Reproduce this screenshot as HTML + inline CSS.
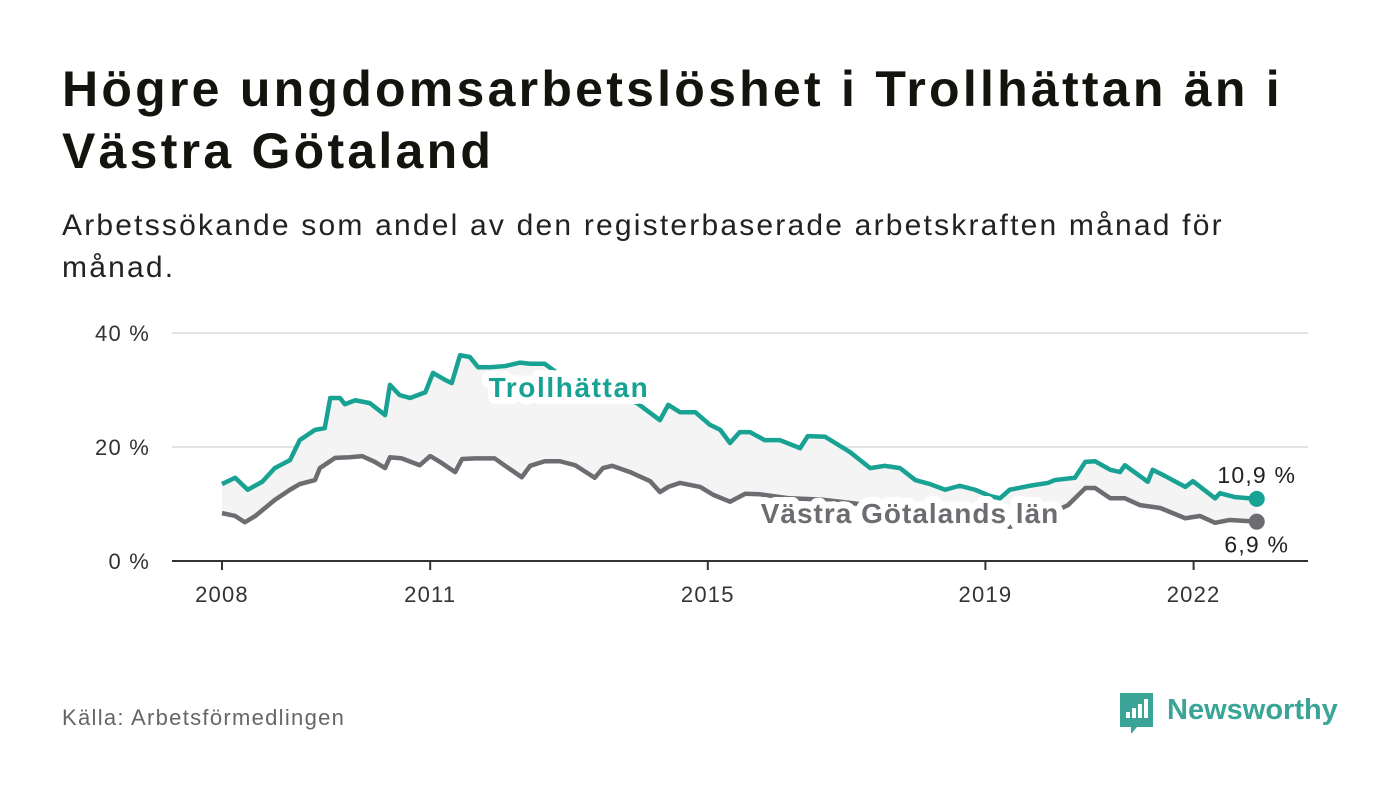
<!DOCTYPE html>
<html><head><meta charset="utf-8">
<style>
body{margin:0;background:#fff;width:1400px;height:794px;overflow:hidden;font-family:"Liberation Sans",sans-serif;color:#111;}
h1{position:absolute;left:62px;top:58px;margin:0;font-size:50px;line-height:62px;font-weight:bold;color:#14140f;letter-spacing:3.25px;}
.sub{position:absolute;left:62px;top:205px;margin:0;font-size:30px;line-height:42px;color:#222;width:1260px;letter-spacing:2.2px;}
.src{position:absolute;left:62px;top:705px;font-size:22px;color:#666;letter-spacing:1.3px;}
</style></head><body>
<h1>Högre ungdomsarbetslöshet i Trollhättan än i<br>Västra Götaland</h1>
<p class="sub">Arbetssökande som andel av den registerbaserade arbetskraften månad för<br>månad.</p>
<div class="src">Källa: Arbetsförmedlingen</div>
<svg width="1400" height="794" style="position:absolute;left:0;top:0" id="chart"></svg>
<script>
const yTicks=[0,20,40];
const xTicks=[2008,2011,2015,2019,2022];
const yearsT=[2008,2008.19,2008.37,2008.58,2008.76,2008.98,2009.12,2009.34,2009.48,2009.56,2009.7,2009.77,2009.92,2010.13,2010.35,2010.42,2010.56,2010.71,2010.93,2011.04,2011.21,2011.31,2011.43,2011.57,2011.69,2011.86,2012.08,2012.29,2012.44,2012.65,2012.94,2013.23,2013.52,2013.73,2013.98,2014.31,2014.43,2014.6,2014.82,2015.03,2015.18,2015.32,2015.46,2015.61,2015.82,2016.04,2016.33,2016.44,2016.69,2017.05,2017.34,2017.55,2017.77,2017.99,2018.2,2018.42,2018.63,2018.85,2019.07,2019.21,2019.35,2019.64,2019.9,2020,2020.29,2020.44,2020.58,2020.8,2020.94,2021.01,2021.34,2021.41,2021.59,2021.88,2021.99,2022.31,2022.38,2022.6,2022.91];
const valuesT=[13.5,14.6,12.5,13.9,16.3,17.7,21.2,23,23.3,28.6,28.6,27.5,28.2,27.7,25.6,30.9,29.1,28.6,29.6,33,31.8,31.2,36.1,35.8,34,34,34.2,34.8,34.6,34.6,32,30.5,29.5,29,27.7,24.7,27.4,26.1,26.1,23.9,23,20.7,22.6,22.6,21.2,21.2,19.8,21.9,21.8,19.1,16.3,16.7,16.3,14.2,13.5,12.5,13.2,12.5,11.4,11,12.5,13.2,13.7,14.2,14.6,17.4,17.5,16,15.6,16.8,13.9,16,14.9,13,14,11,11.9,11.2,10.9];
const yearsV=[2008,2008.19,2008.33,2008.48,2008.76,2008.98,2009.12,2009.34,2009.41,2009.63,2009.84,2010.02,2010.2,2010.35,2010.42,2010.59,2010.85,2011,2011.14,2011.36,2011.46,2011.65,2011.93,2012.08,2012.32,2012.44,2012.65,2012.87,2013.09,2013.37,2013.49,2013.62,2013.88,2014.17,2014.31,2014.43,2014.6,2014.89,2015.08,2015.32,2015.54,2015.75,2016.18,2016.62,2017.05,2017.48,2017.91,2018.35,2018.78,2019.21,2019.35,2019.79,2020.19,2020.44,2020.58,2020.8,2021.01,2021.23,2021.52,2021.88,2022.09,2022.31,2022.52,2022.91];
const valuesV=[8.4,7.9,6.8,7.9,10.7,12.5,13.5,14.2,16.3,18.1,18.2,18.4,17.4,16.3,18.2,18,16.8,18.4,17.4,15.6,17.9,18,18,16.7,14.7,16.7,17.5,17.5,16.8,14.6,16.3,16.7,15.6,14,12.1,13,13.7,13,11.6,10.4,11.8,11.7,11,10.8,10.2,9.5,8.8,8.2,7.5,6.8,6,7.5,9.8,12.8,12.8,11,11,9.8,9.3,7.5,7.9,6.7,7.2,6.9];
const svg=document.getElementById('chart');
const NS='http://www.w3.org/2000/svg';
const X=y=>222+(y-2008)*69.4;
const Y=v=>561-v*5.7;
function el(t,a,p){const e=document.createElementNS(NS,t);for(const k in a)e.setAttribute(k,a[k]);(p||svg).appendChild(e);return e;}
yTicks.forEach(v=>{
  const g=el('line',{x1:172,x2:1308,y1:Y(v),y2:Y(v),stroke:v===0?'#333':'#d8d8d8','stroke-width':v===0?2:1.5});
  
  
  const t=el('text',{x:150,y:Y(v)+8,'text-anchor':'end','font-size':22,'letter-spacing':1.2,fill:'#333'});
  t.textContent=v+' %';
  
  
});
xTicks.forEach(yr=>{
  const l=el('line',{x1:X(yr),x2:X(yr),y1:561,y2:570,stroke:'#333','stroke-width':2});
  
  
  const t=el('text',{x:X(yr),y:602,'text-anchor':'middle','font-size':22,'letter-spacing':1.2,fill:'#333'});
  t.textContent=yr;
  
  
});
let d='M'+yearsT.map((y,i)=>X(y)+','+Y(valuesT[i])).join('L');
for(let i=yearsV.length-1;i>=0;i--)d+='L'+X(yearsV[i])+','+Y(valuesV[i]);
const band=el('path',{d:d+'Z',fill:'#f4f4f4'});


function line(xs,vs,c,name){
  const p=el('path',{d:'M'+xs.map((y,i)=>X(y)+','+Y(vs[i])).join('L'),fill:'none',stroke:c,'stroke-width':4.5,'stroke-linejoin':'round'});
  
  
}
line(yearsV,valuesV,'#6d6c71','vastra-gotaland-line');
line(yearsT,valuesT,'#17a293','trollhattan-line');
function lab(x,y,txt,c,name,size,bold,ls){
  const t=el('text',{x:x,y:y,'text-anchor':'middle','font-size':size,'letter-spacing':ls,'font-weight':bold?'bold':'normal',fill:c,stroke:'#fff','stroke-width':bold?14:6,'paint-order':'stroke','stroke-linejoin':'round'});
  t.textContent=txt;
  
  
}
lab(569,397,'Trollhättan','#17a293','trollhattan-label',28,true,1.6);
lab(910,523,'Västra Götalands län','#6d6c71','vastra-gotaland-label',28,true,1);
const lt=yearsT.length-1, lv=yearsV.length-1;
const d1=el('circle',{cx:X(yearsT[lt]),cy:Y(valuesT[lt]),r:8,fill:'#17a293'});


const d2=el('circle',{cx:X(yearsV[lv]),cy:Y(valuesV[lv]),r:8,fill:'#6d6c71'});


lab(X(yearsT[lt]),Y(valuesT[lt])-16,'10,9 %','#222','trollhattan-end-value',23,false,1.2);
lab(X(yearsV[lv]),Y(valuesV[lv])+31,'6,9 %','#222','vastra-gotaland-end-value',23,false,1.2);
const g=el('g',{});


el('path',{d:'M1120 693h33v34h-16l-6 7v-7h-11z',fill:'#3aa597'},g);
[[1126,712,4,9],[1132,708,4,13],[1138,704,4,17],[1144,699,4,22]].forEach(r=>el('rect',{x:r[0],y:r[1],width:r[2],height:r[3]-3,fill:'#fff'},g));
const lt2=el('text',{x:1167,y:719,'font-size':29,'font-weight':'bold',fill:'#3aa597'},g);
lt2.textContent='Newsworthy';
</script>
</body></html>
